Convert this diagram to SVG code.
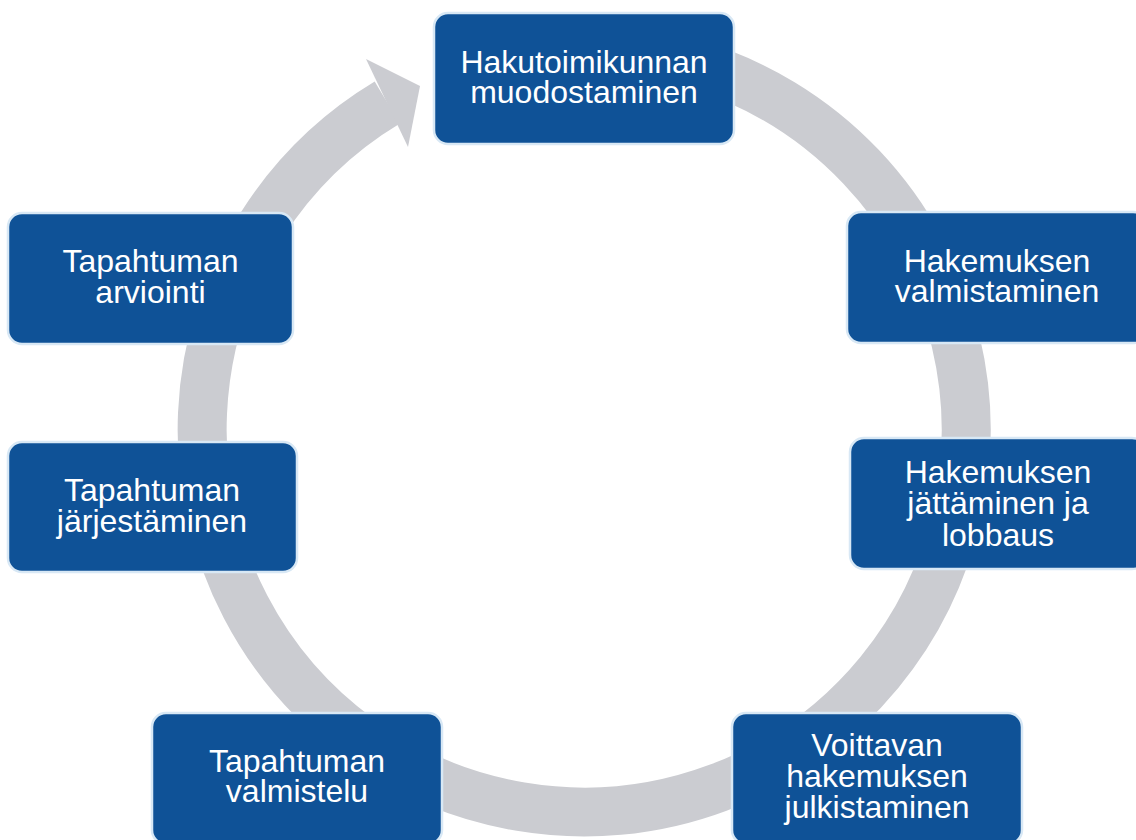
<svg xmlns="http://www.w3.org/2000/svg" width="1136" height="840" viewBox="0 0 1136 840">
  <style>
    .node rect { fill: #0F5297; stroke: #D8E8F5; stroke-width: 2.5; }
    .node text { fill: #FFFFFF; font-family: "Liberation Sans", Arial, sans-serif; font-size: 32px; text-anchor: middle; }
    .ring { fill: none; stroke: #CBCCD1; stroke-width: 49; }
    .head { fill: #CBCCD1; }
  </style>
  <rect x="0" y="0" width="1136" height="840" fill="#FFFFFF"/>
  <g id="connectors">
    <path class="ring" d="M 517.7 53.8 A 382 382 0 1 1 387.3 102.6"/>
    <polygon class="head" points="366,59 420,86 408,147"/>
  </g>
  <g id="node-hakutoimikunta" class="node">
    <rect x="434" y="13" width="300" height="131" rx="14"/>
    <text x="584" y="73"><tspan x="584">Hakutoimikunnan</tspan><tspan x="584" dy="30">muodostaminen</tspan></text>
  </g>
  <g id="node-hakemuksen-valmistaminen" class="node">
    <rect x="847" y="212" width="300" height="131" rx="14"/>
    <text x="997" y="272"><tspan x="997">Hakemuksen</tspan><tspan x="997" dy="30">valmistaminen</tspan></text>
  </g>
  <g id="node-hakemuksen-jattaminen" class="node">
    <rect x="850" y="438" width="296" height="131" rx="14"/>
    <text x="998" y="483"><tspan x="998">Hakemuksen</tspan><tspan x="998" dy="31">jättäminen ja</tspan><tspan x="998" dy="32">lobbaus</tspan></text>
  </g>
  <g id="node-voittavan-julkistaminen" class="node">
    <rect x="732" y="713" width="290" height="131" rx="14"/>
    <text x="877" y="756"><tspan x="877">Voittavan</tspan><tspan x="877" dy="31">hakemuksen</tspan><tspan x="877" dy="31">julkistaminen</tspan></text>
  </g>
  <g id="node-tapahtuman-valmistelu" class="node">
    <rect x="152" y="713" width="290" height="131" rx="14"/>
    <text x="297" y="772"><tspan x="297">Tapahtuman</tspan><tspan x="297" dy="30">valmistelu</tspan></text>
  </g>
  <g id="node-tapahtuman-jarjestaminen" class="node">
    <rect x="8" y="442" width="289" height="130" rx="14"/>
    <text x="152" y="501"><tspan x="152">Tapahtuman</tspan><tspan x="152" dy="31">järjestäminen</tspan></text>
  </g>
  <g id="node-tapahtuman-arviointi" class="node">
    <rect x="8" y="213" width="285" height="131" rx="14"/>
    <text x="150.5" y="272"><tspan x="150.5">Tapahtuman</tspan><tspan x="150.5" dy="31">arviointi</tspan></text>
  </g>
</svg>
